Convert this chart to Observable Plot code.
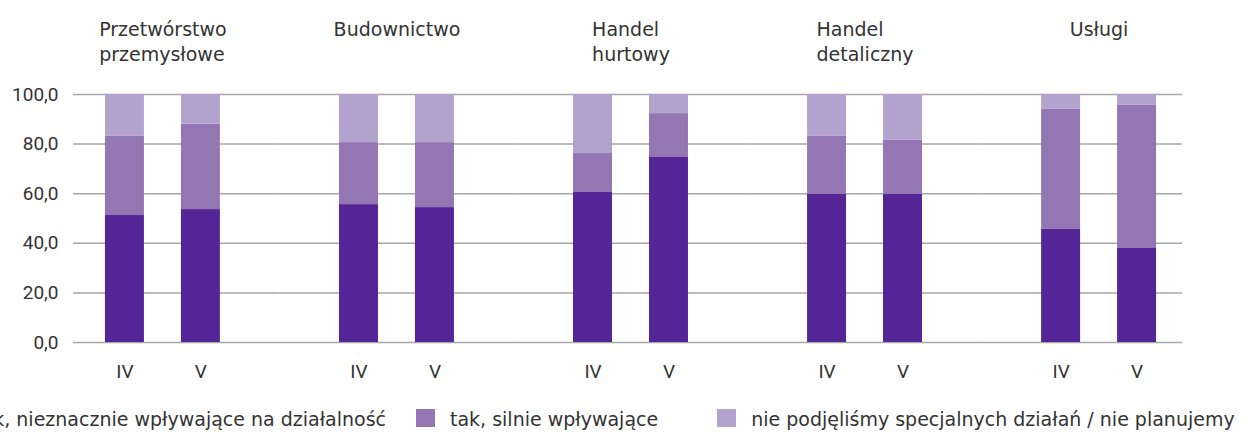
<!DOCTYPE html>
<html><head><meta charset="utf-8">
<script src="https://cdn.jsdelivr.net/npm/d3@7"></script>
<script src="https://cdn.jsdelivr.net/npm/@observablehq/plot@0.6"></script>
<style>
body{margin:0;background:#fff;overflow:hidden;font-family:"DejaVu Sans",sans-serif;}
#wrap{position:relative;width:1254px;height:434px;overflow:hidden;}
#legend{position:absolute;top:409px;display:flex;align-items:flex-start;white-space:nowrap;font-size:19px;color:#333;font-family:"DejaVu Sans",sans-serif;}
.item{display:flex;align-items:flex-start;}
.sw{width:19px;height:18px;margin-right:15px;flex:none;}
.lt{position:relative;top:-1px;line-height:22px;}
</style></head><body><div id="wrap"><div id="chart"></div><div id="legend"></div></div>
<script>
const sectors = ["Przetwórstwo\nprzemysłowe", "Budownictwo", "Handel\nhurtowy", "Handel\ndetaliczny", "Usługi"];
const periods = ["IV", "V"];
const series = ["tak, nieznacznie wpływające na działalność", "tak, silnie wpływające", "nie podjęliśmy specjalnych działań / nie planujemy"];
const colors = ["#532597", "#9477b2", "#b4a2ce"];
// values in order: sector by sector, IV then V
const slightly = [51.2, 53.6, 55.6, 54.4, 60.5, 74.6, 59.7, 59.7, 45.6, 37.9];
const strongly = [31.9, 34.4, 25.0, 26.2, 15.7, 17.7, 23.4, 21.8, 48.4, 57.7];
const none = [16.9, 12.0, 19.4, 19.4, 23.8, 7.7, 16.9, 18.5, 6.0, 4.4];
const yTicks = [0, 20, 40, 60, 80, 100];

const seriesValues = [slightly, strongly, none];
const data = [];
sectors.forEach((s, i) => periods.forEach((p, j) => series.forEach((k, m) => {
  data.push({sector: s, period: p, series: k, value: seriesValues[m][i * 2 + j]});
})));

const W = 1254, ML = 77, MR = 70;
const GRID_LEFT = 73, GRID_RIGHT = 1182;
const FX_PAD = 0.27;
const fxStep = (W - ML - MR) / (sectors.length - FX_PAD);
const half = fxStep * FX_PAD / 2;

const WORD_FONT = "DejaVu Sans";
const FONT = 19;
const ctx = document.createElement("canvas").getContext("2d");
ctx.font = `${FONT}px "${WORD_FONT}"`;
const blockWidth = s => Math.max(...s.split("\n").map(l => ctx.measureText(l).width));

const labelMarks = sectors.map(s => Plot.text([s], {
  fx: d => d, text: d => d, frameAnchor: "top", textAnchor: "start", lineAnchor: "top",
  dx: -blockWidth(s) / 2, dy: -76, lineHeight: 1.32, fontSize: FONT, fontFamily: WORD_FONT, fill: "#333"
}));

// grid rules: one set per facet, extended across the gaps between facets
const gridRows = sectors.flatMap((s, i) => yTicks.map(y => ({sector: s, i, y})));
const n = sectors.length;
const gridStyle = {stroke: "#a6a6a6", strokeWidth: 1.5};
const gridMarks = [
  Plot.ruleY(gridRows.filter(d => d.i === 0), {fx: "sector", y: "y", insetLeft: GRID_LEFT - ML, insetRight: -half, ...gridStyle}),
  Plot.ruleY(gridRows.filter(d => d.i > 0 && d.i < n - 1), {fx: "sector", y: "y", insetLeft: -half, insetRight: -half, ...gridStyle}),
  Plot.ruleY(gridRows.filter(d => d.i === n - 1), {fx: "sector", y: "y", insetLeft: -half, insetRight: (W - MR) - GRID_RIGHT, ...gridStyle})
];

const chart = Plot.plot({
  width: W, height: 395,
  marginTop: 94, marginBottom: 53, marginLeft: ML, marginRight: MR,
  style: {fontFamily: "Roboto, sans-serif", fontSize: FONT + "px", color: "#333", background: "#fff"},
  fx: {domain: sectors, paddingInner: FX_PAD, paddingOuter: 0, round: false, axis: null, label: null},
  x: {domain: periods, paddingInner: 0.487, paddingOuter: 0.368, round: false, label: null, tickSize: 0, tickPadding: 22},
  y: {domain: [0, 100], ticks: yTicks, tickFormat: d => d.toFixed(1).replace(".", ","), tickSize: 0, tickPadding: 15 + (ML - GRID_LEFT), label: null},
  color: {domain: series, range: colors},
  marks: [
    ...gridMarks,
    Plot.barY(data, {fx: "sector", x: "period", y: "value", fill: "series"}),
    ...labelMarks
  ]
});
document.getElementById("chart").appendChild(chart);

// legend
const legend = document.getElementById("legend");
const gaps = [0, 30, 59];
series.forEach((s, i) => {
  const it = document.createElement("div");
  it.className = "item";
  it.style.marginLeft = gaps[i] + "px";
  const sw = document.createElement("div");
  sw.className = "sw";
  sw.style.background = colors[i];
  const t = document.createElement("span");
  t.className = "lt";
  t.textContent = s;
  it.appendChild(sw); it.appendChild(t);
  legend.appendChild(it);
});
const w1 = legend.children[0].getBoundingClientRect().width;
legend.style.left = (416 - gaps[1] - w1) + "px";
</script></body></html>
